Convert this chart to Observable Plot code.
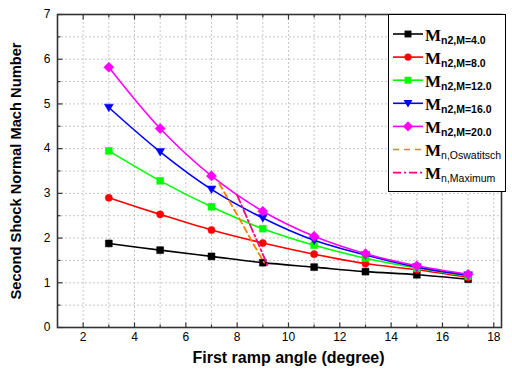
<!DOCTYPE html>
<html>
<head>
<meta charset="utf-8">
<script src="https://cdn.jsdelivr.net/npm/d3@7"></script>
<script src="https://cdn.jsdelivr.net/npm/@observablehq/plot@0.6"></script>
<style>
  html, body { margin: 0; padding: 0; background: #fff; }
  #wrap { position: relative; width: 512px; height: 370px; }
  #legend { position: absolute; left: 388px; top: 14px; }
</style>
</head>
<body>
<div id="wrap"></div>
<script>
// ---- data ----
const angles = [3, 5, 7, 9, 11, 13, 15, 17];
const m4  = [1.88, 1.73, 1.59, 1.45, 1.35, 1.25, 1.18, 1.08];
const m8  = [2.90, 2.53, 2.18, 1.89, 1.64, 1.43, 1.29, 1.12];
const m12 = [3.95, 3.28, 2.70, 2.21, 1.84, 1.55, 1.33, 1.15];
const m16 = [4.92, 3.93, 3.09, 2.45, 1.95, 1.62, 1.35, 1.17];
const m20 = [5.82, 4.45, 3.39, 2.60, 2.04, 1.65, 1.38, 1.19];
const oswX = [7.3, 7.7, 8.15, 8.6, 9.05];
const oswY = [3.22, 2.82, 2.37, 1.90, 1.45];
const maxX = [8.0, 9.18];
const maxY = [2.96, 1.40];
const xMajor = [2, 4, 6, 8, 10, 12, 14, 16, 18];
const xMinor = [1, 3, 5, 7, 9, 11, 13, 15, 17];
const yMajor = [0, 1, 2, 3, 4, 5, 6, 7];
const yMinor = [0.5, 1.5, 2.5, 3.5, 4.5, 5.5, 6.5];
const seriesNames = ["n2,M=4.0", "n2,M=8.0", "n2,M=12.0", "n2,M=16.0", "n2,M=20.0"];
const seriesColors = ["#000000", "#ff0000", "#00ff00", "#0000ff", "#ff00ff"];

// ---- symbols ----
const triDown = {draw(ctx, size) { const r = Math.sqrt(size / Math.PI) * 1.15; ctx.moveTo(-r, -r * 0.75); ctx.lineTo(r, -r * 0.75); ctx.lineTo(0, r * 0.95); ctx.closePath(); }};
const seriesSymbols = [d3.symbolSquare, d3.symbolCircle, d3.symbolSquare, triDown, d3.symbolDiamond2];
const tickSym = (dx, dy) => ({draw(ctx) { ctx.moveTo(0, 0); ctx.lineTo(dx, dy); }});

const seriesVals = [m4, m8, m12, m16, m20];
const rows = [];
seriesVals.forEach((vals, s) => vals.forEach((v, i) => rows.push({x: angles[i], y: v, s})));
const osw = oswX.map((x, i) => ({x, y: oswY[i]}));
const mx = maxX.map((x, i) => ({x, y: maxY[i]}));

const marks = [
  Plot.ruleX(xMinor.concat(xMajor).filter(d => d > 1), {stroke: "#c8c8c8", strokeDasharray: "2,2", strokeWidth: 1}),
  Plot.ruleY(yMinor.concat(yMajor).filter(d => d > 0 && d < 7), {stroke: "#c8c8c8", strokeDasharray: "2,2", strokeWidth: 1}),
];
seriesVals.forEach((vals, s) => {
  const data = rows.filter(d => d.s === s);
  marks.push(Plot.line(data, {x: "x", y: "y", stroke: seriesColors[s], strokeWidth: 1.6, curve: "catmull-rom"}));
  marks.push(Plot.dot(data, {x: "x", y: "y", fill: seriesColors[s], stroke: seriesColors[s], strokeWidth: 0.5, symbol: seriesSymbols[s], r: s === 4 ? 4.6 : (s === 1 ? 3.6 : 3.9)}));
});
marks.push(Plot.line(osw, {x: "x", y: "y", stroke: "#ff8000", strokeWidth: 1.8, strokeDasharray: "6,4"}));
marks.push(Plot.line(mx, {x: "x", y: "y", stroke: "#ff0080", strokeWidth: 1.8, strokeDasharray: "8,3,2,3"}));
// ticks (inward)
marks.push(
  Plot.dot(xMajor, {x: d => d, y: 0, symbol: tickSym(0, -5), stroke: "#333", strokeWidth: 1.2}),
  Plot.dot(xMinor.filter(d => d > 1), {x: d => d, y: 0, symbol: tickSym(0, -3), stroke: "#333", strokeWidth: 1.2}),
  Plot.dot(xMajor, {x: d => d, y: 7, symbol: tickSym(0, 5), stroke: "#333", strokeWidth: 1.2}),
  Plot.dot(xMinor.filter(d => d > 1), {x: d => d, y: 7, symbol: tickSym(0, 3), stroke: "#333", strokeWidth: 1.2}),
  Plot.dot(yMajor, {x: 1, y: d => d, symbol: tickSym(5, 0), stroke: "#333", strokeWidth: 1.2}),
  Plot.dot(yMinor, {x: 1, y: d => d, symbol: tickSym(3, 0), stroke: "#333", strokeWidth: 1.2}),
  Plot.frame({stroke: "#333", strokeWidth: 1.6}),
  Plot.axisX({ticks: xMajor, tickSize: 0, tickPadding: 5, fontSize: 12, label: null, tickFormat: d => String(d)}),
  Plot.axisY({ticks: yMajor, tickSize: 0, tickPadding: 7, fontSize: 12, label: null, tickFormat: d => String(d)}),
  Plot.text(["First ramp angle (degree)"], {frameAnchor: "bottom", dy: 30, dx: 9, textAnchor: "middle", lineAnchor: "middle", fontSize: 16, fontWeight: "bold", text: d => d}),
  Plot.text(["Second Shock Normal Mach Number"], {frameAnchor: "left", dx: -41, textAnchor: "middle", lineAnchor: "middle", rotate: -90, fontSize: 14.7, fontWeight: "bold", text: d => d})
);

const chart = Plot.plot({
  width: 512, height: 370,
  marginLeft: 57, marginRight: 11, marginTop: 14, marginBottom: 43,
  style: {fontFamily: "'Liberation Sans', Arial, sans-serif", fontSize: "12px", color: "#000", background: "#fff"},
  x: {domain: [1, 18.3]},
  y: {domain: [0, 7]},
  marks
});
document.getElementById("wrap").appendChild(chart);

// ---- legend ----
const ns = "http://www.w3.org/2000/svg";
const lg = document.createElementNS(ns, "svg");
lg.setAttribute("id", "legend");
lg.setAttribute("width", 119); lg.setAttribute("height", 179);
const box = document.createElementNS(ns, "rect");
box.setAttribute("x", 0.5); box.setAttribute("y", 0.5); box.setAttribute("width", 117); box.setAttribute("height", 177);
box.setAttribute("fill", "#fff"); box.setAttribute("stroke", "#000"); box.setAttribute("stroke-width", 1);
lg.appendChild(box);
const entries = seriesNames.map((n, s) => ({sub: n, color: seriesColors[s], symbol: seriesSymbols[s], dash: null, bold: true}))
  .concat([{sub: "n,Oswatitsch", color: "#ff8000", symbol: null, dash: "6,5", bold: false},
           {sub: "n,Maximum", color: "#ff0080", symbol: null, dash: "8,3,2,3", bold: false}]);
entries.forEach((e, i) => {
  const cy = 20 + i * 23.1;
  const ln = document.createElementNS(ns, "line");
  ln.setAttribute("x1", 5); ln.setAttribute("x2", 35); ln.setAttribute("y1", cy); ln.setAttribute("y2", cy);
  ln.setAttribute("stroke", e.color); ln.setAttribute("stroke-width", 1.6);
  if (e.dash) ln.setAttribute("stroke-dasharray", e.dash);
  lg.appendChild(ln);
  if (e.symbol) {
    const p = document.createElementNS(ns, "path");
    const size = i === 4 ? 4.6 * 4.6 * Math.PI : (i === 1 ? 3.6 * 3.6 * Math.PI : 3.9 * 3.9 * Math.PI);
    p.setAttribute("d", d3.symbol(e.symbol, size)());
    p.setAttribute("transform", `translate(20,${cy})`);
    p.setAttribute("fill", e.color);
    lg.appendChild(p);
  }
  const t = document.createElementNS(ns, "text");
  t.setAttribute("x", 37); t.setAttribute("y", cy + 6.5);
  const m = document.createElementNS(ns, "tspan");
  m.setAttribute("font-family", "'Liberation Serif', 'Times New Roman', serif");
  m.setAttribute("font-weight", "bold"); m.setAttribute("font-size", 17);
  m.textContent = "M";
  const sb = document.createElementNS(ns, "tspan");
  sb.setAttribute("font-family", "'Liberation Sans', Arial, sans-serif");
  sb.setAttribute("font-weight", e.bold ? "bold" : "normal"); sb.setAttribute("font-size", 10.5);
  sb.setAttribute("dy", 3);
  sb.textContent = e.sub;
  t.appendChild(m); t.appendChild(sb);
  lg.appendChild(t);
});
document.getElementById("wrap").appendChild(lg);
</script>
</body>
</html>
